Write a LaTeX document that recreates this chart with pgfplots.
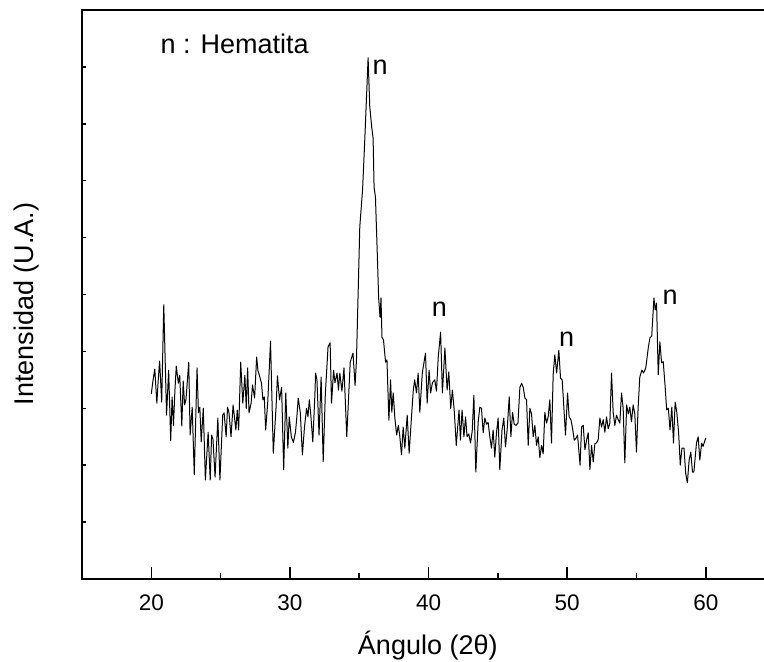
\documentclass[border=0pt]{standalone}
\usepackage{fontspec}
\setmainfont{Liberation Sans}
\usepackage{pgfplots}
\pgfplotsset{compat=1.18}
\pgfplotstableread{
x y
20.0 3.25
20.1 3.45
20.25 3.69
20.4 3.09
20.5 3.5
20.6 3.83
20.75 3.11
20.9 4.82
21.1 2.88
21.25 3.67
21.4 2.43
21.5 3.2
21.6 2.7
21.7 3.3
21.8 3.74
21.95 3.44
22.05 3.58
22.2 2.69
22.3 3.48
22.4 3.06
22.5 3.15
22.7 3.81
22.8 2.53
22.95 3.02
23.1 1.83
23.3 3.71
23.4 2.92
23.5 3.02
23.6 2.41
23.75 3.0
23.9 1.74
24.1 2.58
24.25 1.74
24.35 2.53
24.45 2.45
24.6 1.79
24.8 2.83
24.95 1.74
25.15 2.88
25.25 2.92
25.4 2.5
25.5 3.02
25.6 2.93
25.75 2.5
25.9 3.06
26.1 2.62
26.2 2.97
26.3 2.62
26.45 3.81
26.6 3.09
26.75 3.58
26.85 3.0
26.95 3.71
27.05 2.92
27.2 3.09
27.3 3.41
27.45 3.18
27.6 3.9
27.7 3.65
27.75 3.62
27.95 3.44
28.05 3.15
28.15 3.2
28.25 2.62
28.4 3.11
28.6 4.18
28.8 2.21
29.0 3.02
29.1 3.57
29.25 3.15
29.4 3.37
29.55 1.92
29.7 3.27
29.85 2.3
29.95 2.85
30.1 2.5
30.25 2.4
30.4 2.58
30.5 2.85
30.6 3.18
30.75 2.92
30.9 2.18
31.05 2.67
31.2 3.0
31.3 2.85
31.4 3.15
31.5 2.9
31.65 2.41
31.8 3.23
31.85 3.62
31.95 3.5
32.1 2.53
32.25 3.55
32.4 2.06
32.55 3.23
32.75 4.08
32.9 4.15
33.0 3.09
33.15 3.67
33.25 3.45
33.4 3.62
33.5 3.32
33.6 3.62
33.75 3.3
33.9 3.71
34.1 2.5
34.2 3.02
34.35 3.81
34.55 3.97
34.7 3.4
34.8 3.85
35.04 6.19
35.24 6.84
35.4 7.72
35.64 9.16
35.76 8.3
35.9 7.94
36.0 7.75
36.07 6.89
36.17 6.71
36.3 5.73
36.4 4.94
36.5 4.6
36.57 4.94
36.64 4.25
36.75 4.2
36.9 3.81
37.0 3.85
37.14 2.79
37.26 3.5
37.35 2.93
37.45 3.27
37.57 2.83
37.7 2.53
37.82 2.7
37.93 2.5
38.05 2.18
38.17 2.67
38.29 2.3
38.46 2.88
38.6 2.21
38.77 2.85
38.9 3.32
39.0 3.5
39.13 3.27
39.25 3.62
39.37 2.93
39.55 3.62
39.78 3.97
39.9 3.09
40.04 3.67
40.15 3.27
40.28 3.45
40.45 3.5
40.57 3.3
40.7 3.9
40.87 4.34
41.0 3.27
41.18 4.06
41.34 3.32
41.46 3.64
41.6 3.0
41.72 3.32
41.85 2.97
42.0 2.35
42.2 2.97
42.3 2.44
42.42 2.97
42.55 2.5
42.67 2.85
42.78 2.5
42.9 2.55
43.03 2.39
43.15 2.6
43.27 3.23
43.41 1.88
43.58 2.76
43.7 3.02
43.82 3.0
43.94 2.57
44.06 2.83
44.18 2.72
44.3 2.75
44.42 2.5
44.54 2.3
44.66 2.62
44.78 2.14
44.9 2.57
45.02 2.83
45.14 1.92
45.3 2.62
45.43 2.83
45.55 2.32
45.67 2.62
45.82 3.2
45.94 2.5
46.06 2.93
46.18 2.72
46.31 2.7
46.45 2.74
46.59 3.37
46.71 3.44
46.83 3.37
46.95 3.18
47.07 3.15
47.19 2.35
47.31 3.0
47.43 2.9
47.55 2.5
47.67 2.7
47.79 2.35
47.91 2.5
48.03 2.13
48.15 2.35
48.27 2.2
48.39 2.93
48.51 2.74
48.63 2.85
48.75 3.15
48.87 2.39
48.99 3.59
49.11 3.94
49.24 3.62
49.4 4.02
49.52 3.53
49.64 3.5
49.76 3.02
49.88 2.53
50.03 3.27
50.14 2.85
50.27 2.8
50.39 2.65
50.51 2.44
50.63 2.47
50.75 2.53
50.93 2.0
51.04 2.67
51.16 2.7
51.28 2.27
51.4 2.44
51.52 2.57
51.64 1.92
51.76 2.35
51.88 2.06
52.0 2.38
52.12 2.39
52.24 2.45
52.36 2.83
52.48 2.67
52.6 2.8
52.72 2.58
52.84 2.85
52.96 2.64
53.08 2.74
53.2 3.62
53.32 2.93
53.44 2.7
53.56 2.88
53.68 2.8
53.8 2.74
53.92 3.27
54.04 3.0
54.16 2.04
54.29 3.06
54.41 2.9
54.52 3.02
54.64 2.76
54.76 3.06
54.88 2.9
55.0 2.23
55.12 3.02
55.24 3.55
55.39 3.67
55.51 3.62
55.67 3.71
55.85 4.06
55.97 4.24
56.1 4.27
56.26 4.94
56.35 4.73
56.45 4.85
56.57 3.59
56.69 4.17
56.81 3.8
56.93 3.82
57.06 3.41
57.18 2.97
57.3 3.0
57.42 2.62
57.55 3.02
57.67 2.39
57.79 3.11
57.91 2.93
58.04 2.57
58.16 2.0
58.28 2.3
58.43 2.3
58.55 1.86
58.67 1.69
58.8 2.09
58.92 2.23
59.04 1.88
59.14 1.88
59.33 2.39
59.45 2.5
59.57 2.09
59.7 2.39
59.8 2.33
60.0 2.48
}\xrd
\begin{document}
\begin{tikzpicture}
\begin{axis}[
  scale only axis, width=682pt, height=569pt,
  xmin=15, xmax=64.2, ymin=0, ymax=10,
  axis x line*=box, axis y line*=left,
  axis line style={line width=2.4pt, line cap=rect},
  xtick={20,30,40,50,60}, minor xtick={25,35,45,55},
  xtick pos=bottom,
  ytick=\empty,
  major tick length=12pt, minor tick length=6pt,
  tick style={black, line width=1.5pt},
  tick align=inside,
  /pgf/number format/assume math mode=true,
  xticklabel style={font=\fontsize{22.5}{26}\selectfont, anchor=base, yshift=-31pt},
  xlabel={Ángulo (2θ)}, ylabel={Intensidad (U.A.)},
  xlabel style={font=\fontsize{27}{32}\selectfont, at={(axis description cs:0.507,-0.132)}, anchor=base},
  ylabel style={font=\fontsize{27}{32}\selectfont, at={(axis description cs:-0.082,0.483)}, anchor=center},
  clip=false,
]
\addplot[black, line width=1pt, line join=round] table[x=x, y=y] {\xrd};
\pgfplotsinvokeforeach{1,...,9}{
  \draw[black, line width=1.5pt] (axis cs:15,#1) -- (axis cs:15.32,#1);
}
\node[anchor=base west, inner sep=0pt, font=\fontsize{27}{32}\selectfont] at (axis cs:20.66,9.23) {n : Hematita};
\node[anchor=base west, inner sep=0pt, font=\fontsize{27}{32}\selectfont] at (axis cs:35.96,8.86) {n};
\node[anchor=base west, inner sep=0pt, font=\fontsize{27}{32}\selectfont] at (axis cs:40.22,4.61) {n};
\node[anchor=base west, inner sep=0pt, font=\fontsize{27}{32}\selectfont] at (axis cs:49.4,4.08) {n};
\node[anchor=base west, inner sep=0pt, font=\fontsize{27}{32}\selectfont] at (axis cs:56.88,4.82) {n};
\end{axis}
\pgfresetboundingbox
\useasboundingbox (-82pt,-83pt) rectangle (682pt,579pt);
\end{tikzpicture}
\end{document}
